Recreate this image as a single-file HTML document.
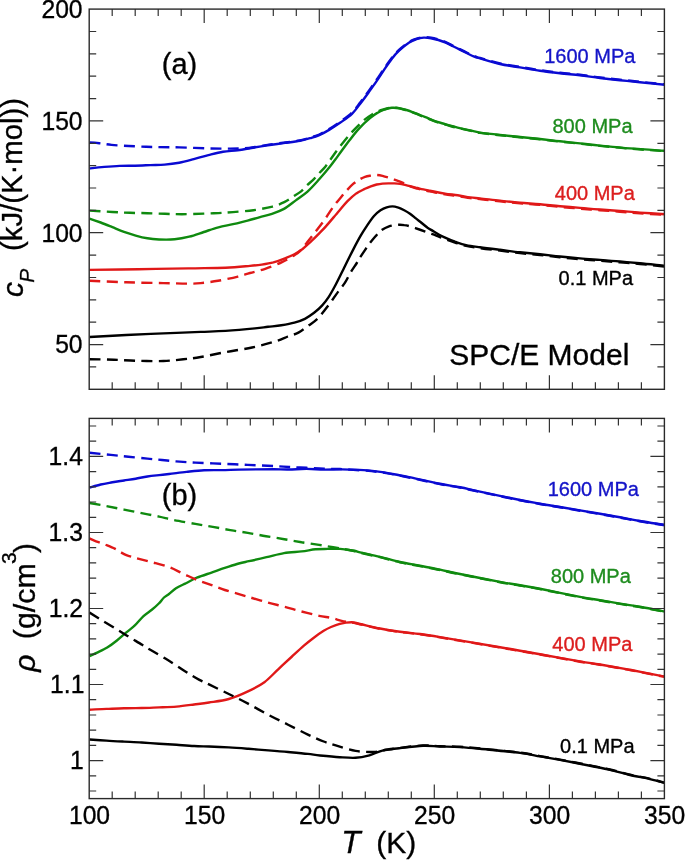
<!DOCTYPE html><html><head><meta charset="utf-8"><style>html,body{margin:0;padding:0;background:#fff;overflow:hidden}svg{display:block;will-change:transform}text{font-family:"Liberation Sans",sans-serif;stroke-width:0.35px}</style></head><body>
<svg width="685" height="860" viewBox="0 0 685 860">
<defs><clipPath id="ct"><rect x="89.2" y="9.1" width="575.2" height="380.2"/></clipPath>
<clipPath id="cb"><rect x="89.2" y="418.4" width="575.2" height="380.2"/></clipPath></defs>
<path clip-path="url(#ct)" d="M89.5,168.5 C92.0,168.2 99.3,167.3 104.3,166.9 C109.3,166.5 114.6,166.1 119.7,165.9 C124.8,165.7 129.9,165.8 135.0,165.7 C140.1,165.6 145.4,165.3 150.3,165.1 C155.2,164.9 159.8,165.0 164.6,164.6 C169.4,164.2 174.3,163.6 179.2,162.7 C184.1,161.8 188.9,160.4 193.8,159.1 C198.7,157.8 203.5,156.3 208.4,155.1 C213.3,153.9 218.1,152.6 223.0,151.8 C227.9,151.0 233.1,150.9 237.6,150.3 C242.1,149.7 245.0,149.1 250.0,148.2 C255.0,147.4 261.8,146.2 267.6,145.3 C273.5,144.4 279.7,143.7 285.1,142.9 C290.5,142.2 295.9,141.6 300.0,140.8 C304.1,140.0 306.8,139.2 310.0,138.2 C313.2,137.2 316.2,136.4 319.3,135.1 C322.4,133.7 325.2,132.2 328.7,130.1 C332.2,128.1 336.5,125.3 340.4,122.6 C344.3,119.8 348.7,116.9 352.0,113.8 C355.3,110.6 357.5,107.2 360.2,103.7 C362.9,100.2 365.7,96.5 368.4,92.7 C371.1,88.9 373.9,85.0 376.6,81.1 C379.3,77.2 381.9,73.0 384.4,69.3 C386.9,65.6 389.3,62.0 391.7,58.9 C394.1,55.8 396.1,53.5 399.0,50.7 C401.9,48.0 406.3,44.4 409.2,42.5 C412.1,40.5 414.1,39.9 416.5,39.1 C418.9,38.2 421.4,37.8 423.8,37.6 C426.2,37.5 428.7,37.8 431.1,38.2 C433.5,38.6 436.0,39.3 438.4,40.0 C440.8,40.7 443.3,41.6 445.7,42.6 C448.1,43.6 450.6,45.0 453.0,46.2 C455.4,47.4 457.9,48.7 460.3,49.9 C462.7,51.1 465.2,52.3 467.6,53.5 C470.0,54.7 472.8,56.1 474.9,56.9 C477.0,57.7 475.8,57.2 480.0,58.4 C484.2,59.6 493.3,62.5 500.0,64.0 C506.7,65.5 513.3,66.3 520.0,67.4 C526.7,68.5 533.3,69.7 540.0,70.7 C546.7,71.7 553.3,72.5 560.0,73.3 C566.7,74.1 573.3,74.5 580.0,75.3 C586.7,76.1 593.3,77.2 600.0,78.0 C606.7,78.8 613.3,79.5 620.0,80.2 C626.7,80.9 632.5,81.5 640.0,82.3 C647.5,83.1 660.8,84.4 665.0,84.8" fill="none" stroke="#0a0ad2" stroke-width="2.4" stroke-linejoin="round"/>
<path clip-path="url(#ct)" d="M89.5,142.4 C91.1,142.5 95.5,142.8 99.2,143.2 C102.9,143.6 106.5,144.4 111.5,144.9 C116.5,145.4 123.1,145.7 128.9,146.0 C134.7,146.3 141.2,146.6 146.2,146.8 C151.2,147.0 153.5,147.0 159.0,147.1 C164.5,147.2 171.0,147.2 179.2,147.4 C187.4,147.6 199.9,148.2 208.4,148.4 C216.9,148.6 224.2,148.6 230.3,148.6 C236.4,148.6 240.8,148.5 244.9,148.3 C249.0,148.0 251.2,147.6 255.0,147.0 C258.8,146.4 262.6,145.7 267.6,144.9 C272.6,144.2 279.7,143.2 285.1,142.5 C290.5,141.8 295.9,141.2 300.0,140.4 C304.1,139.6 306.8,138.7 310.0,137.7 C313.2,136.7 316.2,135.9 319.3,134.5 C322.4,133.1 325.2,131.5 328.7,129.3 C332.2,127.2 336.5,124.4 340.4,121.6 C344.3,118.8 348.7,115.8 352.0,112.6 C355.3,109.4 357.5,106.0 360.2,102.5 C362.9,99.0 365.7,95.2 368.4,91.4 C371.1,87.6 373.9,83.7 376.6,79.8 C379.3,75.9 381.9,71.8 384.4,68.2 C386.9,64.6 389.3,61.0 391.7,58.0 C394.1,55.0 396.1,52.7 399.0,50.0 C401.9,47.4 406.3,43.9 409.2,42.0 C412.1,40.1 414.1,39.4 416.5,38.7 C418.9,37.9 421.4,37.5 423.8,37.3 C426.2,37.2 428.7,37.3 431.1,37.7 C433.5,38.1 436.0,38.8 438.4,39.5 C440.8,40.2 443.3,41.1 445.7,42.1 C448.1,43.1 450.6,44.5 453.0,45.7 C455.4,46.9 457.9,48.2 460.3,49.4 C462.7,50.6 465.2,51.8 467.6,53.0 C470.0,54.2 472.8,55.6 474.9,56.4 C477.0,57.2 475.8,56.7 480.0,57.9 C484.2,59.1 493.3,62.0 500.0,63.5 C506.7,65.0 513.3,65.8 520.0,66.9 C526.7,68.0 533.3,69.2 540.0,70.2 C546.7,71.2 553.3,72.0 560.0,72.8 C566.7,73.6 573.3,74.0 580.0,74.8 C586.7,75.6 593.3,76.7 600.0,77.5 C606.7,78.3 613.3,79.0 620.0,79.7 C626.7,80.4 632.5,81.0 640.0,81.8 C647.5,82.6 660.8,83.9 665.0,84.3" fill="none" stroke="#0a0ad2" stroke-width="2.4" stroke-dasharray="11 6.3" stroke-linejoin="round"/>
<path clip-path="url(#ct)" d="M89.5,218.6 C91.4,219.2 96.9,221.1 100.7,222.5 C104.5,223.9 108.5,225.6 112.4,227.2 C116.3,228.8 120.1,230.5 124.0,231.9 C127.9,233.3 131.8,234.5 135.7,235.6 C139.6,236.7 143.5,237.7 147.4,238.3 C151.3,239.0 154.6,239.3 159.1,239.5 C163.6,239.7 169.6,239.8 174.6,239.3 C179.6,238.8 184.3,237.9 189.2,236.7 C194.1,235.5 198.9,233.6 203.8,232.0 C208.7,230.4 213.5,228.6 218.4,227.3 C223.3,226.0 228.1,225.3 233.0,224.2 C237.9,223.1 243.1,221.7 247.6,220.6 C252.1,219.4 255.9,218.2 260.0,217.1 C264.1,216.0 268.0,215.2 272.0,213.8 C276.0,212.5 280.0,211.1 284.0,208.9 C288.0,206.6 291.9,203.3 295.8,200.4 C299.7,197.5 303.6,195.1 307.5,191.6 C311.4,188.1 315.4,183.5 319.2,179.3 C322.9,175.1 327.2,170.0 330.0,166.5 C332.8,163.0 334.1,161.2 336.0,158.6 C337.9,156.0 339.2,154.1 341.5,151.0 C343.8,148.0 346.8,143.8 349.7,140.1 C352.6,136.3 355.6,132.2 359.0,128.6 C362.4,124.9 366.9,120.8 370.0,118.2 C373.1,115.5 374.9,114.3 377.3,112.9 C379.7,111.4 382.2,110.4 384.6,109.5 C387.0,108.7 389.5,108.0 391.9,107.8 C394.3,107.6 396.8,107.8 399.2,108.2 C401.6,108.6 404.1,109.3 406.5,110.0 C408.9,110.7 411.4,111.7 413.8,112.6 C416.2,113.5 418.7,114.5 421.1,115.5 C423.5,116.5 426.0,117.4 428.4,118.4 C430.8,119.4 433.3,120.6 435.7,121.4 C438.1,122.2 440.6,122.8 443.0,123.5 C445.4,124.2 447.9,125.0 450.3,125.7 C452.7,126.4 454.3,126.8 457.6,127.6 C460.9,128.4 466.3,129.6 470.0,130.4 C473.7,131.2 475.0,131.8 480.0,132.6 C485.0,133.3 493.3,134.2 500.0,134.9 C506.7,135.6 513.3,136.3 520.0,137.0 C526.7,137.7 533.3,138.3 540.0,139.0 C546.7,139.7 553.3,140.6 560.0,141.3 C566.7,142.0 573.3,142.7 580.0,143.4 C586.7,144.1 591.7,144.8 600.0,145.6 C608.3,146.4 619.2,147.5 630.0,148.4 C640.8,149.3 659.2,150.4 665.0,150.8" fill="none" stroke="#0f8a0f" stroke-width="2.4" stroke-linejoin="round"/>
<path clip-path="url(#ct)" d="M89.5,210.6 C93.3,210.8 105.7,211.6 112.4,212.0 C119.1,212.4 124.1,212.6 129.9,212.8 C135.7,213.0 141.6,213.0 147.4,213.2 C153.2,213.4 159.2,213.6 164.9,213.8 C170.7,214.0 175.4,214.2 181.9,214.2 C188.4,214.2 197.7,213.8 203.8,213.6 C209.9,213.4 213.5,213.3 218.4,213.1 C223.3,212.8 227.2,212.6 233.0,212.1 C238.8,211.6 246.8,211.1 253.4,210.2 C260.0,209.3 267.4,207.9 272.5,206.6 C277.6,205.3 280.7,203.9 284.2,202.2 C287.7,200.5 290.6,198.1 293.5,196.3 C296.4,194.5 299.2,192.9 301.4,191.1 C303.6,189.3 304.5,187.7 306.6,185.7 C308.7,183.7 311.9,181.1 313.9,179.1 C315.9,177.1 316.7,175.8 318.6,173.8 C320.5,171.7 323.2,169.2 325.3,166.7 C327.4,164.2 328.7,161.9 331.0,158.8 C333.3,155.6 335.7,152.1 339.0,147.8 C342.3,143.6 346.8,137.8 350.9,133.2 C355.0,128.6 360.2,123.5 363.7,120.4 C367.2,117.3 369.3,116.1 372.0,114.5 C374.7,112.8 377.3,111.6 380.0,110.5 C382.7,109.5 385.3,108.7 388.0,108.2 C390.7,107.7 392.9,107.2 396.0,107.6 C399.1,108.0 403.5,109.4 406.5,110.3 C409.5,111.2 411.4,112.0 413.8,112.9 C416.2,113.8 418.7,114.8 421.1,115.8 C423.5,116.8 426.0,117.7 428.4,118.7 C430.8,119.7 433.3,120.9 435.7,121.7 C438.1,122.5 440.6,123.1 443.0,123.8 C445.4,124.5 447.9,125.3 450.3,126.0 C452.7,126.7 454.3,127.1 457.6,127.9 C460.9,128.7 466.3,129.9 470.0,130.7 C473.7,131.5 475.0,132.2 480.0,132.9 C485.0,133.7 493.3,134.5 500.0,135.2 C506.7,135.9 513.3,136.6 520.0,137.3 C526.7,138.0 533.3,138.6 540.0,139.3 C546.7,140.0 553.3,140.9 560.0,141.6 C566.7,142.3 573.3,143.0 580.0,143.7 C586.7,144.4 591.7,145.1 600.0,145.9 C608.3,146.7 619.2,147.8 630.0,148.7 C640.8,149.6 659.2,150.7 665.0,151.1" fill="none" stroke="#0f8a0f" stroke-width="2.4" stroke-dasharray="11 6.3" stroke-linejoin="round"/>
<path clip-path="url(#ct)" d="M89.5,269.9 C97.7,269.8 122.1,269.4 138.6,269.2 C155.1,268.9 173.8,268.6 188.3,268.4 C202.8,268.1 215.2,268.1 225.5,267.7 C235.8,267.3 244.0,266.4 250.0,265.9 C256.0,265.4 257.8,265.2 261.7,264.6 C265.6,264.0 269.5,263.4 273.4,262.4 C277.3,261.3 281.5,259.7 285.0,258.3 C288.5,256.9 291.5,255.8 294.4,254.2 C297.3,252.7 299.9,251.0 302.6,249.0 C305.3,246.9 308.2,244.1 310.7,241.8 C313.2,239.4 315.2,237.5 317.7,234.9 C320.2,232.3 322.4,230.3 325.9,226.4 C329.4,222.4 335.2,215.4 338.8,211.2 C342.4,207.0 344.6,204.2 347.5,201.2 C350.4,198.3 353.4,195.5 356.3,193.4 C359.2,191.4 362.6,190.0 365.0,188.8 C367.4,187.6 368.9,187.0 370.8,186.3 C372.8,185.6 374.8,184.9 376.7,184.5 C378.6,184.1 380.6,183.8 382.5,183.6 C384.4,183.4 386.4,183.4 388.4,183.4 C390.3,183.4 392.3,183.4 394.2,183.4 C396.1,183.5 398.1,183.6 400.0,183.9 C401.9,184.2 403.9,184.7 405.9,185.1 C407.8,185.5 409.8,186.1 411.7,186.6 C413.6,187.1 415.7,187.5 417.6,188.0 C419.6,188.5 421.5,189.0 423.4,189.4 C425.3,189.8 427.2,190.2 429.2,190.6 C431.1,191.0 432.5,191.3 435.1,191.8 C437.7,192.3 441.2,193.0 445.0,193.6 C448.8,194.2 453.5,194.7 457.7,195.3 C461.9,195.9 466.6,196.9 470.3,197.4 C474.0,197.9 475.1,197.9 480.0,198.4 C484.9,198.9 493.3,200.0 500.0,200.7 C506.7,201.4 513.3,202.1 520.0,202.7 C526.7,203.3 533.3,203.6 540.0,204.2 C546.7,204.8 553.3,205.6 560.0,206.2 C566.7,206.8 573.3,207.3 580.0,207.9 C586.7,208.5 593.3,209.0 600.0,209.5 C606.7,210.0 613.3,210.5 620.0,211.0 C626.7,211.5 632.5,212.1 640.0,212.6 C647.5,213.1 660.8,213.9 665.0,214.2" fill="none" stroke="#e01818" stroke-width="2.4" stroke-linejoin="round"/>
<path clip-path="url(#ct)" d="M89.5,280.8 C95.6,281.1 113.9,281.9 126.2,282.3 C138.5,282.7 153.1,282.9 163.4,283.1 C173.8,283.3 182.1,283.6 188.3,283.6 C194.5,283.6 195.8,283.6 200.7,283.1 C205.6,282.6 211.8,281.9 218.0,280.8 C224.2,279.7 232.6,277.9 237.9,276.6 C243.2,275.3 245.4,274.3 250.0,273.0 C254.6,271.7 259.9,270.6 265.2,268.8 C270.4,267.0 276.8,264.6 281.5,262.4 C286.2,260.3 290.1,257.9 293.2,256.0 C296.3,254.1 297.7,253.3 300.2,250.8 C302.7,248.3 305.7,244.2 308.4,240.8 C311.1,237.4 313.8,233.9 316.6,230.3 C319.4,226.7 322.3,223.0 325.0,219.2 C327.7,215.3 330.3,210.9 333.0,207.2 C335.7,203.5 339.1,199.5 341.4,196.7 C343.7,193.8 345.0,192.3 347.0,190.2 C349.0,188.0 351.4,185.4 353.4,183.7 C355.4,182.0 357.0,181.0 358.9,179.8 C360.8,178.7 363.0,177.5 365.0,176.8 C367.0,176.1 368.9,175.9 370.8,175.6 C372.8,175.3 374.8,175.0 376.7,175.0 C378.6,175.1 380.6,175.4 382.5,175.8 C384.4,176.3 386.4,176.9 388.4,177.5 C390.3,178.1 392.3,178.9 394.2,179.6 C396.1,180.3 398.1,180.8 400.0,181.6 C401.9,182.4 403.9,183.3 405.9,184.2 C407.8,185.1 409.8,186.2 411.7,186.9 C413.6,187.7 415.7,188.2 417.6,188.7 C419.6,189.2 421.5,189.7 423.4,190.1 C425.3,190.5 427.2,190.9 429.2,191.3 C431.1,191.7 432.5,192.0 435.1,192.5 C437.7,193.0 441.2,193.7 445.0,194.3 C448.8,194.9 453.5,195.4 457.7,196.0 C461.9,196.6 466.6,197.6 470.3,198.1 C474.0,198.6 475.1,198.6 480.0,199.1 C484.9,199.6 493.3,200.7 500.0,201.4 C506.7,202.1 513.3,202.8 520.0,203.4 C526.7,204.0 533.3,204.3 540.0,204.9 C546.7,205.5 553.3,206.3 560.0,206.9 C566.7,207.5 573.3,208.0 580.0,208.6 C586.7,209.2 593.3,209.7 600.0,210.2 C606.7,210.7 613.3,211.2 620.0,211.7 C626.7,212.2 632.5,212.8 640.0,213.3 C647.5,213.8 660.8,214.6 665.0,214.9" fill="none" stroke="#e01818" stroke-width="2.4" stroke-dasharray="11 6.3" stroke-linejoin="round"/>
<path clip-path="url(#ct)" d="M89.5,337.0 C95.6,336.7 113.9,335.6 126.2,335.0 C138.5,334.4 151.0,333.9 163.4,333.4 C175.8,332.9 190.3,332.3 200.7,331.9 C211.0,331.5 216.4,331.4 225.5,330.9 C234.6,330.3 247.9,329.1 255.0,328.4 C262.1,327.7 263.7,327.3 268.1,326.8 C272.5,326.3 276.9,326.0 281.3,325.3 C285.7,324.6 290.5,323.8 294.4,322.7 C298.3,321.6 301.6,320.4 304.9,318.8 C308.2,317.2 311.2,315.0 314.1,312.8 C317.0,310.6 319.6,308.2 322.0,305.6 C324.4,303.0 326.4,300.4 328.6,297.1 C330.8,293.8 332.4,290.8 335.0,286.0 C337.6,281.2 340.9,274.3 343.9,268.2 C346.9,262.1 350.4,255.0 353.2,249.6 C356.0,244.2 358.4,239.7 360.7,235.7 C363.0,231.7 365.0,228.7 367.2,225.4 C369.4,222.1 371.8,218.5 374.0,216.0 C376.2,213.5 378.4,211.6 380.5,210.2 C382.6,208.8 384.7,207.9 386.7,207.3 C388.7,206.7 390.6,206.4 392.5,206.4 C394.4,206.4 396.4,207.0 398.4,207.6 C400.3,208.2 402.3,209.2 404.2,210.2 C406.1,211.2 408.1,212.3 410.0,213.7 C411.9,215.1 413.9,216.8 415.9,218.4 C417.8,220.0 419.8,221.4 421.7,223.0 C423.6,224.6 425.7,226.3 427.6,227.7 C429.6,229.1 431.5,230.0 433.4,231.2 C435.3,232.4 437.2,233.6 439.2,234.7 C441.1,235.8 442.5,236.4 445.1,237.6 C447.7,238.8 451.5,240.4 455.0,241.7 C458.5,242.9 461.9,244.2 466.1,245.1 C470.3,246.0 474.4,246.5 480.0,247.3 C485.6,248.1 493.3,249.0 500.0,249.8 C506.7,250.6 513.3,251.6 520.0,252.3 C526.7,253.0 533.3,253.5 540.0,254.2 C546.7,254.9 553.3,255.8 560.0,256.5 C566.7,257.2 573.3,257.8 580.0,258.4 C586.7,259.0 593.3,259.4 600.0,259.9 C606.7,260.4 613.3,260.9 620.0,261.5 C626.7,262.1 632.5,262.5 640.0,263.2 C647.5,263.9 660.8,265.4 665.0,265.8" fill="none" stroke="#000" stroke-width="2.4" stroke-linejoin="round"/>
<path clip-path="url(#ct)" d="M89.5,359.2 C93.5,359.3 105.6,359.4 113.8,359.7 C122.0,360.0 130.3,360.6 138.6,360.8 C146.9,361.0 155.9,361.3 163.4,361.0 C170.9,360.8 177.1,360.0 183.3,359.3 C189.5,358.7 193.7,358.2 200.7,357.0 C207.7,355.8 216.9,353.7 225.5,352.1 C234.1,350.5 243.8,349.3 252.0,347.5 C260.2,345.8 268.7,343.4 274.7,341.6 C280.7,339.8 283.9,338.0 287.8,336.5 C291.8,335.0 294.9,334.5 298.4,332.6 C301.9,330.7 305.8,327.5 308.9,325.3 C312.0,323.1 314.2,321.9 316.8,319.4 C319.4,316.9 322.0,313.5 324.6,310.2 C327.2,306.9 330.1,303.0 332.5,299.7 C334.9,296.4 336.9,293.4 339.0,290.5 C341.1,287.6 343.1,285.6 345.0,282.6 C346.9,279.7 348.5,276.0 350.4,272.8 C352.3,269.6 354.9,266.0 356.5,263.5 C358.1,261.0 358.2,260.3 359.7,258.0 C361.2,255.7 363.7,252.0 365.3,249.6 C366.9,247.2 367.8,245.8 369.5,243.6 C371.2,241.4 373.6,238.5 375.5,236.3 C377.4,234.1 378.6,232.3 380.8,230.6 C383.1,228.9 386.1,227.3 389.0,226.3 C391.9,225.3 395.9,225.0 398.4,224.8 C400.9,224.6 402.3,224.8 404.2,225.1 C406.1,225.3 407.5,225.6 410.0,226.3 C412.5,227.0 416.5,228.5 419.4,229.5 C422.3,230.5 424.9,231.4 427.6,232.4 C430.3,233.4 433.3,234.4 435.7,235.3 C438.1,236.2 438.8,236.7 442.0,237.9 C445.2,239.1 451.0,241.2 455.0,242.5 C459.0,243.8 461.9,245.0 466.1,245.9 C470.3,246.8 474.4,247.3 480.0,248.1 C485.6,248.9 493.3,249.8 500.0,250.6 C506.7,251.4 513.3,252.4 520.0,253.1 C526.7,253.8 533.3,254.3 540.0,255.0 C546.7,255.7 553.3,256.6 560.0,257.3 C566.7,258.0 573.3,258.6 580.0,259.2 C586.7,259.8 593.3,260.2 600.0,260.7 C606.7,261.2 613.3,261.8 620.0,262.3 C626.7,262.9 632.5,263.3 640.0,264.0 C647.5,264.7 660.8,266.2 665.0,266.6" fill="none" stroke="#000" stroke-width="2.4" stroke-dasharray="11 6.3" stroke-linejoin="round"/>
<path clip-path="url(#cb)" d="M89.5,487.5 C91.4,487.0 96.9,485.4 100.7,484.5 C104.5,483.6 108.5,483.0 112.4,482.3 C116.3,481.6 120.1,481.1 124.0,480.5 C127.9,479.9 131.8,479.4 135.7,478.7 C139.6,478.0 143.5,477.1 147.4,476.5 C151.3,475.9 155.5,475.5 159.1,475.1 C162.7,474.7 164.4,474.5 169.0,474.0 C173.6,473.5 180.7,472.5 186.5,471.9 C192.3,471.3 198.2,470.6 204.0,470.3 C209.8,470.0 215.8,470.2 221.6,470.1 C227.4,470.0 233.3,469.7 239.1,469.6 C244.9,469.5 250.8,469.4 256.6,469.4 C262.4,469.3 268.7,469.3 274.1,469.3 C279.5,469.3 283.6,469.6 289.0,469.5 C294.4,469.4 300.7,468.9 306.5,468.9 C312.3,468.9 318.1,469.5 324.0,469.6 C329.9,469.7 335.8,469.3 341.6,469.4 C347.5,469.4 353.3,469.6 359.1,469.9 C364.9,470.2 370.8,470.7 376.6,471.4 C382.4,472.1 388.7,473.2 394.1,474.2 C399.5,475.2 401.4,475.6 409.0,477.2 C416.6,478.8 431.5,482.1 440.0,483.8 C448.5,485.5 453.3,486.0 460.0,487.3 C466.7,488.6 470.0,489.5 480.0,491.6 C490.0,493.7 510.0,498.0 520.0,500.0 C530.0,502.0 533.3,502.5 540.0,503.7 C546.7,504.9 550.0,505.3 560.0,507.0 C570.0,508.7 590.0,512.1 600.0,513.8 C610.0,515.5 613.3,516.1 620.0,517.3 C626.7,518.5 632.5,519.7 640.0,521.0 C647.5,522.3 660.8,524.3 665.0,525.0" fill="none" stroke="#0a0ad2" stroke-width="2.4" stroke-linejoin="round"/>
<path clip-path="url(#cb)" d="M89.5,452.7 C93.1,453.1 104.4,454.2 110.9,454.9 C117.4,455.6 122.3,456.1 128.4,456.7 C134.5,457.3 141.8,458.1 147.4,458.6 C153.0,459.2 157.2,459.5 162.0,460.0 C166.8,460.5 170.4,461.0 176.0,461.4 C181.6,461.8 187.7,462.2 195.3,462.6 C202.9,463.0 212.8,463.3 221.6,463.7 C230.3,464.1 239.1,464.5 247.8,464.9 C256.6,465.3 267.2,465.8 274.1,466.1 C281.0,466.5 283.6,466.7 289.0,467.0 C294.4,467.3 300.7,467.5 306.5,467.8 C312.3,468.1 318.4,468.5 324.0,468.7 C329.6,468.9 334.1,468.8 340.0,469.0 C345.9,469.2 353.0,469.8 359.1,470.2 C365.2,470.6 370.8,471.0 376.6,471.7 C382.4,472.4 388.7,473.5 394.1,474.5 C399.5,475.5 401.4,475.9 409.0,477.5 C416.6,479.1 431.5,482.4 440.0,484.1 C448.5,485.8 453.3,486.3 460.0,487.6 C466.7,488.9 470.0,489.8 480.0,491.9 C490.0,494.0 510.0,498.3 520.0,500.3 C530.0,502.3 533.3,502.8 540.0,504.0 C546.7,505.2 550.0,505.6 560.0,507.3 C570.0,509.0 590.0,512.4 600.0,514.1 C610.0,515.8 613.3,516.4 620.0,517.6 C626.7,518.8 632.5,520.0 640.0,521.3 C647.5,522.6 660.8,524.6 665.0,525.3" fill="none" stroke="#0a0ad2" stroke-width="2.4" stroke-dasharray="11 6.3" stroke-linejoin="round"/>
<path clip-path="url(#cb)" d="M89.5,656.2 C90.6,655.7 93.0,654.6 96.0,653.1 C99.0,651.6 103.7,649.6 107.2,647.5 C110.7,645.4 113.7,643.1 116.9,640.5 C120.2,637.9 123.7,634.6 126.7,632.1 C129.7,629.6 132.3,627.9 135.1,625.2 C137.9,622.5 140.7,618.7 143.5,616.1 C146.3,613.5 149.2,611.9 151.8,609.8 C154.4,607.7 156.8,605.5 158.8,603.5 C160.8,601.5 162.3,599.1 164.0,597.5 C165.7,595.9 167.0,595.5 169.0,594.0 C171.0,592.5 173.2,590.0 176.0,588.2 C178.8,586.4 182.3,585.0 185.8,583.3 C189.3,581.5 192.7,579.5 196.9,577.7 C201.1,576.0 206.2,574.4 210.9,572.8 C215.6,571.2 220.2,569.4 224.8,567.9 C229.5,566.4 234.8,564.6 238.8,563.5 C242.8,562.4 244.4,562.2 249.0,561.2 C253.6,560.2 260.7,558.6 266.5,557.2 C272.3,555.9 278.1,554.1 284.0,553.1 C289.9,552.1 296.3,552.0 301.6,551.4 C306.9,550.8 311.2,549.7 315.6,549.3 C320.0,548.9 323.7,549.0 327.8,548.9 C331.9,548.8 335.7,548.6 340.1,548.9 C344.5,549.2 350.8,550.1 354.1,550.7 C357.4,551.3 355.7,551.4 360.0,552.4 C364.3,553.4 373.3,555.3 380.0,556.9 C386.7,558.5 393.3,560.5 400.0,562.0 C406.7,563.5 413.3,564.5 420.0,565.8 C426.7,567.1 433.3,568.3 440.0,569.7 C446.7,571.1 450.0,572.0 460.0,574.0 C470.0,576.0 490.0,580.0 500.0,581.9 C510.0,583.8 513.3,584.1 520.0,585.2 C526.7,586.4 530.0,586.8 540.0,588.8 C550.0,590.8 570.0,595.0 580.0,596.9 C590.0,598.8 593.3,599.1 600.0,600.2 C606.7,601.3 613.3,602.5 620.0,603.6 C626.7,604.7 632.5,605.5 640.0,606.8 C647.5,608.1 660.8,610.7 665.0,611.5" fill="none" stroke="#0f8a0f" stroke-width="2.4" stroke-linejoin="round"/>
<path clip-path="url(#cb)" d="M89.5,503.0 C92.3,503.5 100.8,505.0 106.5,506.1 C112.2,507.2 118.2,508.4 124.0,509.6 C129.8,510.8 135.8,511.9 141.6,513.1 C147.4,514.3 153.8,515.5 159.1,516.6 C164.4,517.7 167.4,518.7 173.4,519.9 C179.4,521.1 188.7,522.7 195.3,523.9 C201.9,525.1 207.0,525.9 212.8,526.9 C218.6,527.9 224.5,529.1 230.3,530.1 C236.1,531.1 241.9,531.9 247.8,532.9 C253.8,533.9 259.9,535.2 266.0,536.2 C272.1,537.2 278.4,538.2 284.3,539.2 C290.2,540.2 295.8,541.3 301.6,542.3 C307.4,543.2 313.9,544.1 319.1,544.9 C324.4,545.7 328.8,546.5 333.1,547.2 C337.4,547.9 341.5,548.6 345.0,549.2 C348.5,549.8 351.6,550.4 354.1,551.0 C356.6,551.6 355.7,551.7 360.0,552.7 C364.3,553.7 373.3,555.6 380.0,557.2 C386.7,558.8 393.3,560.8 400.0,562.3 C406.7,563.8 413.3,564.8 420.0,566.1 C426.7,567.4 433.3,568.6 440.0,570.0 C446.7,571.4 450.0,572.3 460.0,574.3 C470.0,576.3 490.0,580.3 500.0,582.2 C510.0,584.1 513.3,584.4 520.0,585.5 C526.7,586.6 530.0,587.1 540.0,589.1 C550.0,591.0 570.0,595.3 580.0,597.2 C590.0,599.1 593.3,599.4 600.0,600.5 C606.7,601.6 613.3,602.8 620.0,603.9 C626.7,605.0 632.5,605.8 640.0,607.1 C647.5,608.4 660.8,611.0 665.0,611.8" fill="none" stroke="#0f8a0f" stroke-width="2.4" stroke-dasharray="11 6.3" stroke-linejoin="round"/>
<path clip-path="url(#cb)" d="M89.5,709.7 C92.3,709.6 100.8,709.1 106.5,708.9 C112.2,708.7 118.2,708.4 124.0,708.3 C129.8,708.1 135.8,708.1 141.6,708.0 C147.4,707.9 153.3,707.6 159.1,707.4 C164.9,707.2 170.8,707.1 176.6,706.6 C182.4,706.1 188.7,705.2 194.1,704.5 C199.5,703.8 203.2,703.4 209.0,702.5 C214.8,701.6 222.2,700.9 228.8,699.0 C235.4,697.1 242.6,693.9 248.5,691.1 C254.4,688.3 259.4,685.8 264.4,682.2 C269.3,678.6 273.6,673.6 278.2,669.3 C282.8,665.0 287.7,660.5 292.0,656.5 C296.3,652.5 300.3,648.7 303.9,645.6 C307.5,642.5 310.5,640.2 313.8,637.7 C317.1,635.2 320.8,632.6 323.7,630.8 C326.6,629.0 328.3,628.2 331.0,627.0 C333.7,625.8 336.4,624.6 339.8,623.8 C343.2,623.0 348.2,622.3 351.6,622.3 C355.0,622.3 355.3,623.0 360.0,624.0 C364.7,625.0 373.3,627.2 380.0,628.5 C386.7,629.8 393.3,630.8 400.0,631.7 C406.7,632.6 413.3,633.1 420.0,634.0 C426.7,634.9 426.7,634.9 440.0,637.1 C453.3,639.3 486.7,644.9 500.0,647.2 C513.3,649.5 513.3,649.5 520.0,650.7 C526.7,651.9 530.0,652.4 540.0,654.2 C550.0,656.0 570.0,659.7 580.0,661.4 C590.0,663.1 591.7,663.1 600.0,664.5 C608.3,665.9 619.2,667.8 630.0,669.8 C640.8,671.8 659.2,675.5 665.0,676.6" fill="none" stroke="#e01818" stroke-width="2.4" stroke-linejoin="round"/>
<path clip-path="url(#cb)" d="M89.5,538.4 C91.0,539.0 95.8,541.2 98.5,542.2 C101.2,543.2 102.7,543.6 105.4,544.7 C108.1,545.8 112.2,547.4 114.7,548.6 C117.2,549.8 118.5,551.0 120.5,552.1 C122.5,553.2 124.7,554.5 126.4,555.2 C128.2,556.0 129.1,556.0 131.0,556.6 C132.9,557.2 134.5,557.7 138.0,558.6 C141.5,559.5 146.6,560.8 151.8,562.2 C157.0,563.6 163.8,565.2 169.0,567.1 C174.2,569.0 178.3,571.5 183.0,573.6 C187.7,575.7 192.2,578.0 196.9,579.9 C201.6,581.8 206.2,583.2 210.9,584.9 C215.6,586.6 219.5,588.3 224.8,590.0 C230.2,591.7 239.0,594.1 243.0,595.3 C247.0,596.5 245.1,595.9 249.0,597.1 C252.9,598.2 260.7,600.6 266.5,602.2 C272.3,603.8 278.1,605.1 284.0,606.6 C289.9,608.1 295.8,610.0 301.6,611.5 C307.5,613.0 314.1,614.7 319.1,615.8 C324.2,616.9 328.1,617.1 331.9,618.0 C335.7,618.9 338.3,620.1 341.7,620.9 C345.1,621.7 348.9,622.0 352.0,622.6 C355.1,623.2 355.3,623.3 360.0,624.3 C364.7,625.3 373.3,627.5 380.0,628.8 C386.7,630.1 393.3,631.1 400.0,632.0 C406.7,632.9 413.3,633.4 420.0,634.3 C426.7,635.2 426.7,635.2 440.0,637.4 C453.3,639.6 486.7,645.2 500.0,647.5 C513.3,649.8 513.3,649.8 520.0,651.0 C526.7,652.2 530.0,652.7 540.0,654.5 C550.0,656.3 570.0,660.0 580.0,661.7 C590.0,663.4 591.7,663.4 600.0,664.8 C608.3,666.2 619.2,668.1 630.0,670.1 C640.8,672.1 659.2,675.8 665.0,676.9" fill="none" stroke="#e01818" stroke-width="2.4" stroke-dasharray="11 6.3" stroke-linejoin="round"/>
<path clip-path="url(#cb)" d="M89.5,739.5 C92.3,739.7 100.8,740.2 106.5,740.6 C112.2,741.0 118.2,741.3 124.0,741.6 C129.8,741.9 135.8,742.1 141.6,742.5 C147.4,742.9 153.3,743.3 159.1,743.7 C164.9,744.1 170.8,744.4 176.6,744.8 C182.4,745.2 188.7,745.7 194.1,746.0 C199.5,746.3 203.2,746.3 209.0,746.5 C214.8,746.7 222.2,747.0 228.8,747.4 C235.4,747.8 241.9,748.3 248.5,748.8 C255.1,749.3 261.7,749.9 268.3,750.4 C274.9,750.9 281.5,751.4 288.1,752.0 C294.7,752.6 302.6,753.3 307.9,753.9 C313.2,754.5 314.7,755.0 320.0,755.5 C325.3,756.0 333.9,756.8 339.8,757.2 C345.7,757.6 350.7,758.1 355.6,757.8 C360.5,757.5 364.8,756.5 369.4,755.3 C374.0,754.0 378.3,751.5 383.2,750.3 C388.1,749.1 392.4,749.0 399.0,748.3 C405.6,747.5 416.2,746.1 423.0,745.8 C429.8,745.5 433.8,746.3 440.0,746.5 C446.2,746.7 453.3,746.7 460.0,747.1 C466.7,747.5 470.0,747.8 480.0,748.8 C490.0,749.8 510.0,751.6 520.0,752.9 C530.0,754.2 533.3,755.2 540.0,756.4 C546.7,757.6 551.7,758.3 560.0,759.9 C568.3,761.5 581.7,764.1 590.0,765.7 C598.3,767.4 603.3,768.2 610.0,769.8 C616.7,771.3 623.3,773.5 630.0,775.0 C636.7,776.5 644.2,777.8 650.0,779.1 C655.8,780.5 662.5,782.4 665.0,783.1" fill="none" stroke="#000" stroke-width="2.4" stroke-linejoin="round"/>
<path clip-path="url(#cb)" d="M89.5,612.6 C91.8,614.0 98.4,618.2 103.0,621.0 C107.6,623.8 112.7,626.9 116.9,629.4 C121.1,631.9 123.9,633.7 128.1,636.3 C132.3,638.9 138.4,642.5 142.1,644.8 C145.8,647.0 146.0,647.3 150.3,649.8 C154.6,652.3 162.0,656.4 167.8,660.0 C173.7,663.6 180.1,668.2 185.4,671.5 C190.7,674.8 195.5,677.8 199.4,679.9 C203.3,682.0 204.1,682.0 209.0,684.4 C213.9,686.8 222.2,690.8 228.8,694.0 C235.4,697.2 241.9,700.4 248.5,703.9 C255.1,707.4 261.7,711.3 268.3,714.8 C274.9,718.3 281.5,721.4 288.1,724.7 C294.7,728.0 302.0,731.8 307.9,734.6 C313.8,737.4 319.0,739.7 323.7,741.5 C328.4,743.3 330.5,743.8 335.8,745.4 C341.1,747.0 349.3,749.8 355.6,750.9 C361.9,752.0 368.8,752.0 373.4,751.9 C378.0,751.8 378.7,751.1 383.0,750.5 C387.3,749.9 392.3,748.8 399.0,748.0 C405.7,747.2 416.2,745.8 423.0,745.5 C429.8,745.2 433.8,746.0 440.0,746.2 C446.2,746.4 453.3,746.4 460.0,746.8 C466.7,747.2 470.0,747.5 480.0,748.5 C490.0,749.5 510.0,751.3 520.0,752.6 C530.0,753.9 533.3,754.9 540.0,756.1 C546.7,757.3 551.7,758.0 560.0,759.6 C568.3,761.2 581.7,763.8 590.0,765.4 C598.3,767.1 603.3,768.0 610.0,769.5 C616.7,771.0 623.3,773.2 630.0,774.7 C636.7,776.2 644.2,777.5 650.0,778.8 C655.8,780.2 662.5,782.1 665.0,782.8" fill="none" stroke="#000" stroke-width="2.4" stroke-dasharray="11 6.3" stroke-linejoin="round"/>
<path d="M112.2,389.3v-7.0 M112.2,9.1v7.0 M135.2,389.3v-7.0 M135.2,9.1v7.0 M158.2,389.3v-7.0 M158.2,9.1v7.0 M181.2,389.3v-7.0 M181.2,9.1v7.0 M204.2,389.3v-14.0 M204.2,9.1v14.0 M227.2,389.3v-7.0 M227.2,9.1v7.0 M250.3,389.3v-7.0 M250.3,9.1v7.0 M273.3,389.3v-7.0 M273.3,9.1v7.0 M296.3,389.3v-7.0 M296.3,9.1v7.0 M319.3,389.3v-14.0 M319.3,9.1v14.0 M342.3,389.3v-7.0 M342.3,9.1v7.0 M365.3,389.3v-7.0 M365.3,9.1v7.0 M388.3,389.3v-7.0 M388.3,9.1v7.0 M411.3,389.3v-7.0 M411.3,9.1v7.0 M434.3,389.3v-14.0 M434.3,9.1v14.0 M457.3,389.3v-7.0 M457.3,9.1v7.0 M480.3,389.3v-7.0 M480.3,9.1v7.0 M503.3,389.3v-7.0 M503.3,9.1v7.0 M526.4,389.3v-7.0 M526.4,9.1v7.0 M549.4,389.3v-14.0 M549.4,9.1v14.0 M572.4,389.3v-7.0 M572.4,9.1v7.0 M595.4,389.3v-7.0 M595.4,9.1v7.0 M618.4,389.3v-7.0 M618.4,9.1v7.0 M641.4,389.3v-7.0 M641.4,9.1v7.0 M112.2,798.6v-7.0 M112.2,418.4v7.0 M135.2,798.6v-7.0 M135.2,418.4v7.0 M158.2,798.6v-7.0 M158.2,418.4v7.0 M181.2,798.6v-7.0 M181.2,418.4v7.0 M204.2,798.6v-14.0 M204.2,418.4v14.0 M227.2,798.6v-7.0 M227.2,418.4v7.0 M250.3,798.6v-7.0 M250.3,418.4v7.0 M273.3,798.6v-7.0 M273.3,418.4v7.0 M296.3,798.6v-7.0 M296.3,418.4v7.0 M319.3,798.6v-14.0 M319.3,418.4v14.0 M342.3,798.6v-7.0 M342.3,418.4v7.0 M365.3,798.6v-7.0 M365.3,418.4v7.0 M388.3,798.6v-7.0 M388.3,418.4v7.0 M411.3,798.6v-7.0 M411.3,418.4v7.0 M434.3,798.6v-14.0 M434.3,418.4v14.0 M457.3,798.6v-7.0 M457.3,418.4v7.0 M480.3,798.6v-7.0 M480.3,418.4v7.0 M503.3,798.6v-7.0 M503.3,418.4v7.0 M526.4,798.6v-7.0 M526.4,418.4v7.0 M549.4,798.6v-14.0 M549.4,418.4v14.0 M572.4,798.6v-7.0 M572.4,418.4v7.0 M595.4,798.6v-7.0 M595.4,418.4v7.0 M618.4,798.6v-7.0 M618.4,418.4v7.0 M641.4,798.6v-7.0 M641.4,418.4v7.0 M89.2,366.9h7.0 M664.4,366.9h-7.0 M89.2,344.6h14.0 M664.4,344.6h-14.0 M89.2,322.2h7.0 M664.4,322.2h-7.0 M89.2,299.8h7.0 M664.4,299.8h-7.0 M89.2,277.5h7.0 M664.4,277.5h-7.0 M89.2,255.1h7.0 M664.4,255.1h-7.0 M89.2,232.7h14.0 M664.4,232.7h-14.0 M89.2,210.4h7.0 M664.4,210.4h-7.0 M89.2,188.0h7.0 M664.4,188.0h-7.0 M89.2,165.7h7.0 M664.4,165.7h-7.0 M89.2,143.3h7.0 M664.4,143.3h-7.0 M89.2,120.9h14.0 M664.4,120.9h-14.0 M89.2,98.6h7.0 M664.4,98.6h-7.0 M89.2,76.2h7.0 M664.4,76.2h-7.0 M89.2,53.8h7.0 M664.4,53.8h-7.0 M89.2,31.5h7.0 M664.4,31.5h-7.0 M89.2,791.0h7.0 M664.4,791.0h-7.0 M89.2,775.8h7.0 M664.4,775.8h-7.0 M89.2,760.6h14.0 M664.4,760.6h-14.0 M89.2,745.4h7.0 M664.4,745.4h-7.0 M89.2,730.2h7.0 M664.4,730.2h-7.0 M89.2,715.0h7.0 M664.4,715.0h-7.0 M89.2,699.7h7.0 M664.4,699.7h-7.0 M89.2,684.5h14.0 M664.4,684.5h-14.0 M89.2,669.3h7.0 M664.4,669.3h-7.0 M89.2,654.1h7.0 M664.4,654.1h-7.0 M89.2,638.9h7.0 M664.4,638.9h-7.0 M89.2,623.7h7.0 M664.4,623.7h-7.0 M89.2,608.5h14.0 M664.4,608.5h-14.0 M89.2,593.3h7.0 M664.4,593.3h-7.0 M89.2,578.1h7.0 M664.4,578.1h-7.0 M89.2,562.9h7.0 M664.4,562.9h-7.0 M89.2,547.7h7.0 M664.4,547.7h-7.0 M89.2,532.5h14.0 M664.4,532.5h-14.0 M89.2,517.3h7.0 M664.4,517.3h-7.0 M89.2,502.0h7.0 M664.4,502.0h-7.0 M89.2,486.8h7.0 M664.4,486.8h-7.0 M89.2,471.6h7.0 M664.4,471.6h-7.0 M89.2,456.4h14.0 M664.4,456.4h-14.0 M89.2,441.2h7.0 M664.4,441.2h-7.0 M89.2,426.0h7.0 M664.4,426.0h-7.0" stroke="#333" stroke-width="1.2" fill="none"/>
<rect x="89.2" y="9.1" width="575.2" height="380.2" fill="none" stroke="#2a2a2a" stroke-width="1.4"/>
<rect x="89.2" y="418.4" width="575.2" height="380.2" fill="none" stroke="#2a2a2a" stroke-width="1.4"/>
<text transform="translate(82.60,353.32) scale(0.950,1)" font-size="26.0" text-anchor="end" fill="#000" stroke="#000">50</text>
<text transform="translate(82.60,241.50) scale(0.950,1)" font-size="26.0" text-anchor="end" fill="#000" stroke="#000">100</text>
<text transform="translate(82.60,129.67) scale(0.950,1)" font-size="26.0" text-anchor="end" fill="#000" stroke="#000">150</text>
<text transform="translate(82.60,17.85) scale(0.950,1)" font-size="26.0" text-anchor="end" fill="#000" stroke="#000">200</text>
<text transform="translate(83.80,769.33) scale(0.950,1)" font-size="26.0" text-anchor="end" fill="#000" stroke="#000">1</text>
<text transform="translate(84.40,693.29) scale(0.950,1)" font-size="26.0" text-anchor="end" fill="#000" stroke="#000">1.1</text>
<text transform="translate(83.10,617.25) scale(0.950,1)" font-size="26.0" text-anchor="end" fill="#000" stroke="#000">1.2</text>
<text transform="translate(82.90,541.21) scale(0.950,1)" font-size="26.0" text-anchor="end" fill="#000" stroke="#000">1.3</text>
<text transform="translate(82.90,465.17) scale(0.950,1)" font-size="26.0" text-anchor="end" fill="#000" stroke="#000">1.4</text>
<text transform="translate(89.50,823.70) scale(0.950,1)" font-size="26.0" text-anchor="middle" fill="#000" stroke="#000">100</text>
<text transform="translate(204.54,823.70) scale(0.950,1)" font-size="26.0" text-anchor="middle" fill="#000" stroke="#000">150</text>
<text transform="translate(319.58,823.70) scale(0.950,1)" font-size="26.0" text-anchor="middle" fill="#000" stroke="#000">200</text>
<text transform="translate(434.62,823.70) scale(0.950,1)" font-size="26.0" text-anchor="middle" fill="#000" stroke="#000">250</text>
<text transform="translate(549.66,823.70) scale(0.950,1)" font-size="26.0" text-anchor="middle" fill="#000" stroke="#000">300</text>
<text transform="translate(664.70,823.70) scale(0.950,1)" font-size="26.0" text-anchor="middle" fill="#000" stroke="#000">350</text>
<text x="179.50" y="74.00" font-size="29.0" text-anchor="middle" fill="#000" stroke="#000">(a)</text>
<text x="179.50" y="505.00" font-size="29.0" text-anchor="middle" fill="#000" stroke="#000">(b)</text>
<text x="539.30" y="364.50" font-size="30.0" text-anchor="middle" fill="#000" stroke="#000">SPC/E Model</text>
<text x="589.80" y="63.40" font-size="20.0" text-anchor="middle" fill="#1414c8" stroke="#1414c8">1600 MPa</text>
<text x="592.50" y="133.40" font-size="20.0" text-anchor="middle" fill="#1e8c1e" stroke="#1e8c1e">800 MPa</text>
<text x="594.80" y="199.90" font-size="20.0" text-anchor="middle" fill="#dc1e1e" stroke="#dc1e1e">400 MPa</text>
<text x="595.80" y="285.40" font-size="20.0" text-anchor="middle" fill="#000" stroke="#000">0.1 MPa</text>
<text x="593.30" y="496.20" font-size="20.0" text-anchor="middle" fill="#1414c8" stroke="#1414c8">1600 MPa</text>
<text x="590.80" y="582.60" font-size="20.0" text-anchor="middle" fill="#1e8c1e" stroke="#1e8c1e">800 MPa</text>
<text x="592.40" y="650.60" font-size="20.0" text-anchor="middle" fill="#dc1e1e" stroke="#dc1e1e">400 MPa</text>
<text x="597.30" y="752.60" font-size="20.0" text-anchor="middle" fill="#000" stroke="#000">0.1 MPa</text>
<text stroke="#000" x="341.3" y="853.3" font-size="31.5" font-style="italic">T</text>
<text stroke="#000" x="376.3" y="853.3" font-size="30">(K)</text>
<text stroke="#000" transform="translate(22.6,297) rotate(-90)" font-size="30" font-style="italic">c</text>
<text stroke="#000" transform="translate(33.9,282.8) rotate(-90)" font-size="21" font-style="italic">P</text>
<text stroke="#000" transform="translate(22.4,251) rotate(-90)" font-size="29.3">(kJ/(K·mol))</text>
<text stroke="#000" transform="translate(34.9,671.8) rotate(-90)" font-size="30" font-style="italic">ρ</text>
<text stroke="#000" transform="translate(34.9,639.2) rotate(-90)" font-size="30.4">(g/cm</text>
<text stroke="#000" transform="translate(16.1,564) rotate(-90)" font-size="21">3</text>
<text stroke="#000" transform="translate(34.9,552.9) rotate(-90)" font-size="30">)</text>
</svg></body></html>
